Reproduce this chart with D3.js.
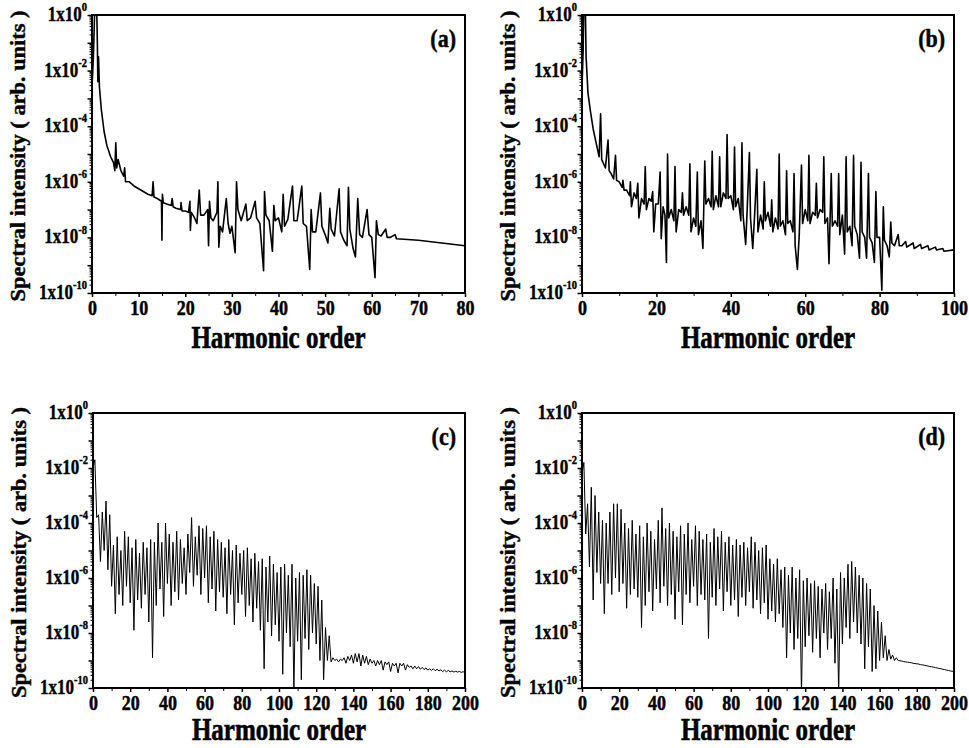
<!DOCTYPE html>
<html>
<head>
<meta charset="utf-8">
<script src="https://cdn.jsdelivr.net/npm/d3@7"></script>
<style>
  body { margin: 0; background: #fff; }
  svg { display: block; }
  text { font-family: "Liberation Serif", "Times New Roman", serif; font-weight: bold; fill: #000; }
</style>
</head>
<body>
<svg id="chart" width="969" height="748"></svg>
<script>
'use strict';

// panel (a): [harmonic order, log10 of spectral intensity]
const spectrumA = [
  [0, -2.6], [0.3, -1.5], [0.6, 0.3], [1.0, 0.3], [1.15, -1.0], [1.25, -2.4], [1.4, -1.5], [1.6, -2.6],
  [2.0, -3.4], [2.6, -4.2], [3.2, -4.7], [4.0, -5.1], [4.6, -5.3], [4.9, -5.6], [5.1, -4.6], [5.3, -5.5],
  [5.6, -5.2], [6.2, -5.6], [6.8, -5.8], [7.0, -5.5], [7.2, -6.0], [8, -6.0], [9, -6.15], [10, -6.25],
  [11, -6.35], [12, -6.45], [12.9, -6.5], [13.1, -6.0], [13.3, -6.55], [14, -6.6], [14.9, -6.7], [15.0, -8.1],
  [15.1, -6.45], [15.3, -6.75], [16, -6.8], [17, -6.85], [17.2, -6.6], [17.4, -6.9], [18, -6.95], [19, -7.0],
  [19.1, -6.75], [19.3, -7.05], [20, -7.05], [20.7, -7.1], [21.0, -6.7], [21.1, -7.75], [21.3, -7.1], [22, -7.3],
  [22.5, -7.5], [23.0, -6.3], [23.3, -7.2], [24, -7.2], [24.8, -7.0], [25.0, -8.3], [25.2, -6.7], [25.5, -7.3],
  [26, -7.4], [26.8, -7.1], [27.0, -6.0], [27.2, -8.35], [27.5, -7.6], [28, -7.8], [28.8, -6.6], [29.2, -7.5],
  [29.6, -7.85], [30, -7.6], [30.7, -8.55], [31.0, -6.0], [31.3, -7.0], [32, -7.4], [33, -6.8], [33.3, -7.4],
  [34, -7.3], [35, -6.7], [35.3, -7.3], [36, -7.5], [36.8, -9.2], [37.0, -6.35], [37.3, -7.2], [38, -7.4],
  [38.7, -8.5], [39.0, -6.85], [39.3, -7.4], [40, -7.3], [40.7, -7.8], [41.0, -6.45], [41.3, -7.6], [42, -7.35],
  [43.0, -6.15], [43.3, -7.4], [44, -7.4], [45.0, -6.15], [45.3, -7.5], [46, -7.6], [46.7, -9.15], [47.0, -7.0],
  [47.3, -7.8], [48, -7.8], [49.0, -6.4], [49.3, -7.6], [50, -7.9], [50.6, -8.2], [51.0, -6.95], [51.3, -7.7],
  [52, -7.95], [53.0, -6.25], [53.3, -7.8], [54, -8.1], [54.7, -8.3], [55.0, -6.2], [55.3, -7.7], [56, -8.4],
  [56.5, -8.7], [57.0, -6.6], [57.4, -7.9], [58, -8.0], [59.0, -7.0], [59.4, -7.9], [60, -8.0], [60.7, -9.45],
  [61.0, -7.4], [61.4, -7.9], [62, -7.95], [63.0, -7.7], [63.3, -8.0], [64, -8.0], [65.0, -7.9], [65.3, -8.05],
  [70, -8.1], [75, -8.2], [80, -8.3]
];

// panel (b)
const spectrumB = [
  [0, -2.6], [0.3, -1.3], [0.5, 0.3], [0.9, 0.3], [1.1, -1.5], [1.3, -2.0], [1.6, -2.8], [2.2, -3.4],
  [3.0, -4.1], [3.8, -4.6], [4.6, -5.1], [5.0, -3.55], [5.3, -5.2], [5.8, -5.35], [6.3, -5.5], [7.0, -4.5],
  [7.3, -5.6], [7.8, -5.7], [8.5, -5.9], [9.0, -5.05], [9.3, -5.95], [10, -6.0], [10.8, -6.2], [11.0, -5.95],
  [11.3, -6.3], [12, -6.3], [12.8, -6.5], [13.0, -6.0], [13.3, -6.9], [14, -6.4], [14.6, -6.6], [15.0, -6.05],
  [15.3, -7.3], [16, -6.6], [16.7, -6.8], [17.0, -5.45], [17.3, -7.0], [18, -6.6], [18.6, -6.7], [19.0, -6.35],
  [19.3, -7.8], [19.8, -6.8], [20.5, -6.8], [21.0, -5.65], [21.3, -8.05], [21.8, -6.9], [22.3, -7.2], [22.7, -8.9],
  [23.0, -5.0], [23.3, -7.3], [24, -7.0], [24.7, -7.4], [25.0, -5.45], [25.3, -7.8], [26, -7.0], [26.7, -7.1],
  [27.0, -6.4], [27.3, -7.2], [28, -6.9], [28.7, -7.2], [29.0, -5.35], [29.3, -7.8], [30, -7.3], [30.6, -7.6],
  [31.0, -5.65], [31.3, -7.9], [32, -7.4], [32.5, -8.4], [33.0, -5.25], [33.3, -6.8], [34, -6.6], [34.7, -6.9],
  [35.0, -4.9], [35.3, -7.0], [36, -6.5], [36.7, -6.9], [37.0, -5.1], [37.3, -6.9], [38, -6.4], [38.7, -6.6],
  [39.0, -4.3], [39.3, -6.6], [40, -6.5], [40.7, -7.0], [41.0, -4.75], [41.3, -6.9], [42, -6.6], [42.7, -7.4],
  [43.0, -4.6], [43.3, -7.2], [44.0, -8.25], [44.4, -7.0], [45.0, -4.95], [45.3, -7.3], [45.9, -8.4], [46.4, -7.2],
  [47.0, -5.55], [47.3, -7.8], [48, -7.2], [48.7, -7.7], [49.0, -6.0], [49.3, -7.4], [50, -7.1], [50.7, -7.6],
  [51.0, -6.65], [51.3, -7.8], [52, -7.3], [52.7, -7.7], [53.0, -5.0], [53.3, -7.6], [54, -7.4], [54.7, -7.9],
  [55.0, -5.6], [55.3, -7.5], [56, -7.4], [56.7, -7.8], [57.0, -5.7], [57.3, -8.3], [57.9, -9.15], [58.4, -7.9],
  [59.0, -5.4], [59.3, -7.5], [60, -7.0], [60.7, -7.4], [61.0, -5.05], [61.3, -7.5], [62, -7.1], [62.7, -7.2],
  [63.0, -6.05], [63.3, -7.3], [64, -7.0], [64.7, -7.1], [65.0, -5.1], [65.3, -7.5], [66.0, -7.3], [66.4, -8.95],
  [67.0, -5.7], [67.3, -7.6], [68, -7.4], [68.7, -7.6], [69.0, -5.7], [69.3, -7.9], [70, -7.2], [70.6, -8.6],
  [71.0, -5.1], [71.3, -7.8], [72, -7.6], [72.6, -8.3], [73.0, -5.05], [73.3, -7.6], [74, -7.9], [74.6, -8.75],
  [75.0, -5.3], [75.3, -7.8], [76.0, -8.0], [76.5, -8.75], [77.0, -5.7], [77.3, -8.0], [78, -8.2], [78.6, -8.9],
  [79.0, -6.35], [79.3, -8.0], [80.0, -8.0], [80.6, -9.9], [81.0, -6.9], [81.3, -8.1], [82, -8.3], [82.6, -8.7],
  [83.0, -7.45], [83.3, -8.2], [84, -8.3], [85.0, -7.9], [85.3, -8.3], [86, -8.3], [87.0, -8.15], [87.3, -8.35],
  [89.0, -8.2], [89.3, -8.4], [91.0, -8.25], [91.3, -8.4], [93, -8.3], [93.3, -8.45], [95, -8.35], [95.3, -8.45],
  [97, -8.4], [97.3, -8.5], [100, -8.45]
];

// panels (c) and (d): log10 intensity at odd orders 1..199 (peaks) and even orders 0..200 (troughs)
const peaksC = [
  -1.7, -3.7, -3.6, -3.2, -3.7, -4.8, -4.5, -5.0, -4.3, -4.5,
  -4.9, -4.6, -5.1, -4.7, -4.9, -4.6, -4.7, -4.0, -4.7, -4.0,
  -4.4, -4.7, -4.3, -4.6, -4.9, -4.4, -3.8, -4.5, -4.1, -4.2,
  -4.1, -4.5, -4.3, -4.6, -4.7, -4.9, -4.6, -5.0, -4.8, -5.1,
  -5.0, -4.9, -5.3, -5.1, -5.4, -5.3, -5.6, -5.2, -5.5, -5.8,
  -5.6, -5.5, -5.9, -5.5, -6.0, -5.8, -5.9, -5.7, -5.9, -6.2,
  -6.3, -6.8, -7.8, -8.1, -8.9, -8.95, -8.95, -8.9, -8.85, -8.8,
  -8.75, -8.75, -8.8, -8.85, -8.95, -9.0, -9.0, -9.0, -9.05, -9.05,
  -9.1, -9.1, -9.1, -9.1, -9.15, -9.2, -9.2, -9.22, -9.25, -9.27,
  -9.3, -9.3, -9.32, -9.34, -9.35, -9.36, -9.38, -9.39, -9.4, -9.41
];
const troughsC = [
  -2.0, -3.8, -5.4, -5.0, -5.7, -6.3, -7.3, -6.6, -7.0, -6.3,
  -6.9, -7.9, -6.8, -7.1, -6.6, -7.6, -8.9, -7.0, -6.4, -7.4,
  -6.2, -7.0, -6.5, -6.8, -6.2, -6.6, -5.8, -6.3, -5.9, -6.6,
  -6.0, -6.9, -6.4, -7.2, -6.5, -6.7, -7.3, -6.6, -7.7, -6.9,
  -6.6, -7.4, -7.0, -7.6, -7.1, -7.9, -9.3, -7.6, -8.1, -7.7,
  -8.3, -9.5, -8.0, -8.5, -10.2, -8.3, -9.7, -8.2, -8.6, -8.0,
  -8.4, -9.0, -9.7, -9.0, -9.05, -9.0, -9.05, -9.0, -9.1, -9.0,
  -9.1, -9.05, -9.2, -9.1, -9.15, -9.1, -9.2, -9.15, -9.35, -9.15,
  -9.4, -9.2, -9.45, -9.2, -9.35, -9.25, -9.3, -9.3, -9.32, -9.33,
  -9.35, -9.36, -9.37, -9.38, -9.4, -9.41, -9.41, -9.42, -9.42, -9.43,
  -9.43
];
const peaksD = [
  -1.8, -3.3, -2.7, -3.0, -3.6, -3.9, -4.0, -3.6, -3.3, -3.3,
  -3.5, -4.0, -4.2, -3.9, -4.4, -4.1, -4.5, -4.0, -4.3, -4.6,
  -3.9, -3.45, -4.2, -4.0, -4.3, -4.5, -4.1, -4.4, -4.0, -4.6,
  -4.1, -4.3, -4.6, -4.4, -4.7, -4.2, -4.5, -4.3, -4.7, -4.5,
  -4.8, -4.6, -4.8, -4.7, -4.9, -4.5, -4.7, -5.0, -4.9, -4.8,
  -5.3, -5.5, -5.3, -5.7, -5.6, -5.9, -5.6, -6.0, -5.7, -6.1,
  -6.0, -6.2, -6.1, -6.3, -6.4, -6.2, -6.5, -6.0, -6.4, -5.8,
  -6.0, -5.5, -5.4, -5.6, -5.9, -6.0, -6.2, -6.4, -7.0, -7.2,
  -7.6, -8.1, -8.6, -8.8, -8.9, -9.01, -9.04, -9.06, -9.08, -9.11,
  -9.13, -9.16, -9.19, -9.22, -9.24, -9.27, -9.30, -9.33, -9.36, -9.39
];
const troughsD = [
  -2.2, -4.4, -5.6, -6.8, -5.8, -6.2, -7.3, -6.2, -6.6, -6.0,
  -6.5, -6.2, -7.1, -6.6, -6.4, -6.7, -7.8, -7.0, -6.5, -7.2,
  -6.4, -6.9, -6.3, -7.0, -6.6, -7.5, -6.5, -7.7, -6.6, -6.9,
  -6.3, -7.0, -6.6, -6.8, -8.2, -6.7, -7.0, -6.4, -7.2, -6.5,
  -7.0, -6.8, -7.4, -6.7, -7.0, -6.5, -7.1, -6.8, -7.3, -6.9,
  -7.5, -7.2, -7.6, -7.3, -7.8, -8.9, -8.0, -8.6, -8.2, -10.3,
  -8.5, -8.1, -8.7, -8.2, -8.9, -8.0, -8.6, -8.2, -9.1, -10.3,
  -8.4, -7.8, -8.2, -7.6, -8.0, -8.4, -9.3, -8.5, -9.4, -9.3,
  -9.0, -8.9, -9.0, -8.95, -9.0, -9.0, -9.02, -9.05, -9.07, -9.10,
  -9.12, -9.15, -9.17, -9.20, -9.23, -9.26, -9.29, -9.32, -9.35, -9.38,
  -9.40
];

const xTicksA = [0, 10, 20, 30, 40, 50, 60, 70, 80];
const xTicksB = [0, 20, 40, 60, 80, 100];
const xTicksCD = [0, 20, 40, 60, 80, 100, 120, 140, 160, 180, 200];
const yLabelExponents = [0, -2, -4, -6, -8, -10];
const panelLabels = ['(a)', '(b)', '(c)', '(d)'];

const X_TITLE = 'Harmonic order';
const Y_TITLE = 'Spectral intensity ( arb. units )';
const STRETCH = 1.22;   // the original lettering is drawn tall and narrow

function interleave(peaks, troughs) {
  const out = [];
  troughs.forEach((t, i) => {
    out.push([2 * i, t]);
    if (i < peaks.length) out.push([2 * i + 1, peaks[i]]);
  });
  return out;
}

const svg = d3.select('#chart');

const panels = [
  {left: 92, top: 15, width: 373, height: 278, xMax: 80, xTicks: xTicksA, xMinor: 5,
   data: spectrumA, lw: 1.6, titleGap: 55},
  {left: 582, top: 15, width: 372, height: 278, xMax: 100, xTicks: xTicksB, xMinor: 10,
   data: spectrumB, lw: 1.6, titleGap: 55},
  {left: 93, top: 413, width: 372, height: 275, xMax: 200, xTicks: xTicksCD, xMinor: 10,
   data: interleave(peaksC, troughsC), lw: 1, titleGap: 52},
  {left: 582, top: 413, width: 372, height: 275, xMax: 200, xTicks: xTicksCD, xMinor: 10,
   data: interleave(peaksD, troughsD), lw: 1, titleGap: 52}
];

panels.forEach((p, i) => drawPanel(p, panelLabels[i], i));

function drawPanel(p, label, idx) {
  const x = d3.scaleLinear().domain([0, p.xMax]).range([p.left, p.left + p.width]);
  const y = d3.scaleLog().domain([1e-10, 1]).range([p.top + p.height, p.top]);
  const bottom = p.top + p.height;

  const g = svg.append('g');

  g.append('clipPath')
      .attr('id', 'clip' + idx)
    .append('rect')
      .attr('x', p.left).attr('y', p.top)
      .attr('width', p.width).attr('height', p.height);

  const line = d3.line()
      .x((d) => x(d[0]))
      .y((d) => y(Math.pow(10, d[1])));

  g.append('path')
      .datum(p.data)
      .attr('clip-path', `url(#clip${idx})`)
      .attr('fill', 'none')
      .attr('stroke', '#000')
      .attr('stroke-width', p.lw)
      .attr('stroke-linejoin', 'round')
      .attr('d', line);

  // x axis ticks
  const minorX = d3.range(0, p.xMax + 0.001, p.xMinor).filter((v) => p.xTicks.indexOf(v) < 0);
  g.append('g')
      .attr('transform', `translate(0,${bottom})`)
      .call(d3.axisBottom(x).tickValues(minorX).tickSize(3).tickFormat(''))
      .call((s) => s.select('.domain').remove());

  const xAxis = g.append('g')
      .attr('transform', `translate(0,${bottom})`)
      .call(d3.axisBottom(x).tickValues(p.xTicks).tickSize(4).tickFormat(d3.format('d')));
  xAxis.select('.domain').remove();
  xAxis.selectAll('line').attr('stroke-width', 1.5);
  xAxis.selectAll('text')
      .attr('y', null).attr('dy', null)
      .attr('font-size', 18)
      .attr('font-family', '"Liberation Serif", serif')
      .attr('stroke', '#000').attr('stroke-width', 0.4)
      .attr('transform', `translate(0,${22}) scale(1,${STRETCH})`);

  // y axis ticks, decades and minor 2..9
  const minorY = [];
  for (let k = -10; k < 0; k++) {
    for (let m = 2; m <= 9; m++) minorY.push(m * Math.pow(10, k));
  }
  g.append('g')
      .attr('transform', `translate(${p.left},0)`)
      .call(d3.axisLeft(y).tickValues(minorY).tickSize(2.5).tickFormat(''))
      .call((s) => s.select('.domain').remove());

  const decades = d3.range(-10, 1).map((k) => Math.pow(10, k));
  const yAxis = g.append('g')
      .attr('transform', `translate(${p.left},0)`)
      .call(d3.axisLeft(y).tickValues(decades).tickSize(4.5).tickFormat(''));
  yAxis.select('.domain').remove();
  yAxis.selectAll('line').attr('stroke-width', 1.5);

  yLabelExponents.forEach((e) => {
    const t = g.append('text')
        .attr('text-anchor', 'end')
        .attr('font-size', 17)
        .attr('stroke', '#000').attr('stroke-width', 0.35)
        .attr('transform', `translate(${p.left - 5},${y(Math.pow(10, e)) + 6}) scale(1,${STRETCH})`);
    t.append('tspan').text('1x10');
    t.append('tspan')
        .attr('font-size', 10.5)
        .attr('dy', -8)
        .text(String(e));
  });

  // frame
  g.append('rect')
      .attr('x', p.left).attr('y', p.top)
      .attr('width', p.width).attr('height', p.height)
      .attr('fill', 'none')
      .attr('stroke', '#000')
      .attr('stroke-width', 2);

  g.append('text')
      .attr('text-anchor', 'end')
      .attr('font-size', 22)
      .attr('stroke', '#000').attr('stroke-width', 0.4)
      .attr('transform', `translate(${p.left + p.width - 9},${p.top + 32}) scale(1,1.1)`)
      .text(label);

  g.append('text')
      .attr('text-anchor', 'middle')
      .attr('font-size', 25)
      .attr('stroke', '#000').attr('stroke-width', 0.5)
      .attr('transform', `translate(${p.left + p.width / 2},${bottom + p.titleGap}) scale(1,1.25)`)
      .text(X_TITLE);

  g.append('text')
      .attr('text-anchor', 'middle')
      .attr('font-size', 20)
      .attr('stroke', '#000').attr('stroke-width', 0.4)
      .attr('transform', `translate(${p.left - 67},${p.top + p.height / 2 + 2}) rotate(-90) scale(1.12,1)`)
      .text(Y_TITLE);
}
</script>
</body>
</html>
